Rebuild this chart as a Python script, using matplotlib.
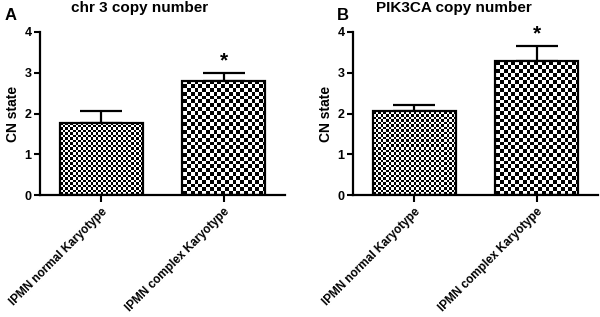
import numpy as np
import matplotlib
matplotlib.use('Agg')
import matplotlib.pyplot as plt

plt.rcParams['font.family'] = ['Liberation Sans', 'DejaVu Sans']
plt.rcParams['font.weight'] = 'bold'

# data
groups = ['IPMN normal Karyotype', 'IPMN complex Karyotype']
chr3_mean = [1.76, 2.80]
chr3_sem = [0.30, 0.19]
pik3ca_mean = [2.07, 3.29]
pik3ca_sem = [0.14, 0.36]

titles = ['chr 3 copy number', 'PIK3CA copy number']
letters = ['A', 'B']
y_ticks = [0, 1, 2, 3, 4]
checker_cells = [2.5, 3.75]   # checker cell size in pixels, per bar


def checker(nx, ny):
    xx, yy = np.meshgrid(np.arange(nx), np.arange(ny))
    return ((xx + yy) % 2).astype(float)


fig = plt.figure(figsize=(6, 3.17), dpi=100)
axA = fig.add_axes([40/600, 1-195/317, 245/600, 163/317])
axB = fig.add_axes([353/600, 1-195/317, 245/600, 163/317])

for ax, means, sems, title, letter in zip([axA, axB], [chr3_mean, pik3ca_mean],
                                          [chr3_sem, pik3ca_sem], titles, letters):
    x = np.arange(len(groups))
    bars = ax.bar(x, means, width=0.68, facecolor='none', edgecolor='black',
                  linewidth=1.6, zorder=3)
    ax.errorbar(x, means, yerr=[np.zeros(len(sems)), sems], fmt='none',
                ecolor='black', elinewidth=1.6, capsize=15, capthick=1.6, zorder=2)

    # checkerboard fill clipped to each bar
    w_px = 245
    h_px = 163
    for bar, cell in zip(bars, checker_cells):
        img = checker(int(w_px / cell), int(h_px / cell))
        im = ax.imshow(img, cmap='gray', interpolation='nearest',
                       extent=[-0.5, 1.5, 0, 4], aspect='auto', zorder=2.5)
        im.set_clip_path(bar)

    # significance star
    ax.text(x[1], means[1] + sems[1] + 0.08, '*', ha='center', va='bottom',
            fontsize=15, fontweight='bold')

    ax.set_xlim(-0.5, 1.5)
    ax.set_ylim(0, 4)
    ax.set_yticks(y_ticks)
    ax.set_xticks(x)
    ax.set_xticklabels(groups, rotation=45, ha='right', rotation_mode='anchor',
                       fontsize=8.5, fontweight='bold')
    ax.tick_params(axis='y', labelsize=9, width=1.5, length=4, pad=2)
    ax.tick_params(axis='x', width=1.5, length=5, pad=3)
    ax.set_ylabel('CN state', fontsize=10, fontweight='bold', labelpad=3)
    for s in ['top', 'right']:
        ax.spines[s].set_visible(False)
    for s in ['left', 'bottom']:
        ax.spines[s].set_linewidth(1.6)

fig.text(5/600, 1-15/317, 'A', fontsize=12, fontweight='bold', va='center')
fig.text(337/600, 1-15/317, 'B', fontsize=12, fontweight='bold', va='center')
fig.text(140/600, 1-8/317, titles[0], fontsize=11, fontweight='bold',
         ha='center', va='center')
fig.text(454/600, 1-8/317, titles[1], fontsize=11, fontweight='bold',
         ha='center', va='center')

plt.savefig('out.png', dpi=100)
